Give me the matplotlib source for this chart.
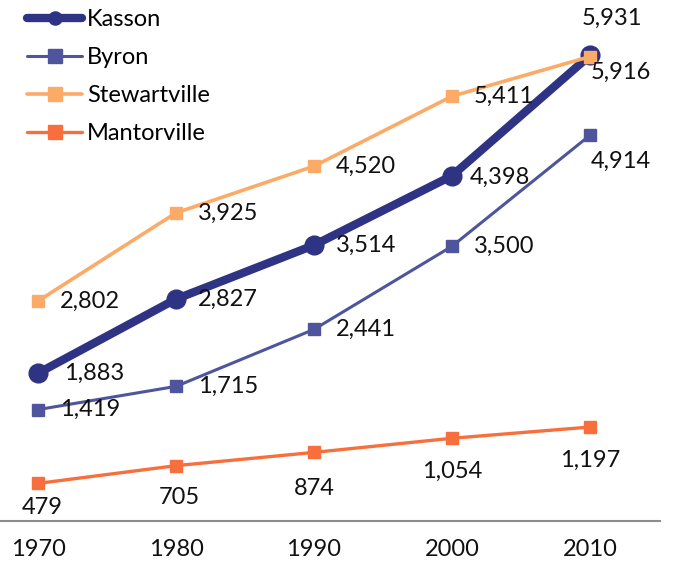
import matplotlib
matplotlib.use("Agg")
import matplotlib.pyplot as plt
from matplotlib.lines import Line2D

plt.rcParams['font.family'] = ['Lato', 'DejaVu Sans']

years = [1970, 1980, 1990, 2000, 2010]
kasson = [1883, 2827, 3514, 4398, 5931]
byron = [1419, 1715, 2441, 3500, 4914]
stewartville = [2802, 3925, 4520, 5411, 5916]
mantorville = [479, 705, 874, 1054, 1197]

# name, values, colour, line width, marker, marker size
series = [
    ('Kasson', kasson, '#2e3383', 6.0, 'o', 13.5),
    ('Byron', byron, '#4f559c', 2.2, 's', 9),
    ('Stewartville', stewartville, '#fbaa68', 2.6, 's', 9),
    ('Mantorville', mantorville, '#f86f3e', 2.4, 's', 9),
]

# label offsets in pixels (dx, dy, ha, va); default is to the right of the point
right = (22, 0, 'left', 'center')
label_pos = {
    'Kasson': [(26, 0, 'left', 'center'), right, right, (18, -2, 'left', 'center'),
               (22, 37, 'center', 'center')],
    'Byron': [right, right, right, right, (31, -26, 'center', 'center')],
    'Stewartville': [right, right, right, right, (31, -16, 'center', 'center')],
    'Mantorville': [(4, -24, 'center', 'center'), (3, -32, 'center', 'center'),
                    (0, -36, 'center', 'center'), (0, -33, 'center', 'center'),
                    (0, -33, 'center', 'center')],
}

fig = plt.figure(figsize=(6.73, 5.62), dpi=100)
ax = fig.add_axes([0, 1 - 521 / 562, 660 / 673, 521 / 562])

handles = []
for name, vals, col, lw, mk, ms in series:
    ax.plot(years, vals, color=col, lw=lw, marker=mk, markersize=ms,
            solid_capstyle='round')
    for x, v, (dx, dy, ha, va) in zip(years, vals, label_pos[name]):
        ax.annotate(f"{v:,}", (x, v), xytext=(dx, dy), textcoords='offset pixels',
                    ha=ha, va=va, fontsize=17, color='#111111')
    handles.append(Line2D([], [], color=col, lw=lw, marker=mk,
                          markersize=ms * (0.7 if mk == 'o' else 1.05),
                          solid_capstyle='round', label=name))

ax.set_xlim(1970 - 38 / 13.8, 1970 + 622 / 13.8)
ax.set_ylim(0, 521 / 0.0785)
ax.set_xticks(years)
ax.set_yticks([])
ax.tick_params(axis='x', length=0, pad=13, labelsize=17, labelcolor='#111111')
for s in ['top', 'left', 'right']:
    ax.spines[s].set_visible(False)
ax.spines['bottom'].set_color('#8c8c8c')
ax.spines['bottom'].set_linewidth(1.5)

ax.legend(handles=handles, loc='upper left', bbox_to_anchor=(27 / 673, 1 - 9 / 562),
          bbox_transform=fig.transFigure, frameon=False, fontsize=17,
          handlelength=2.35, handletextpad=0.2, labelspacing=0.72, borderpad=0,
          borderaxespad=0)

fig.savefig('out.png', dpi=100)
